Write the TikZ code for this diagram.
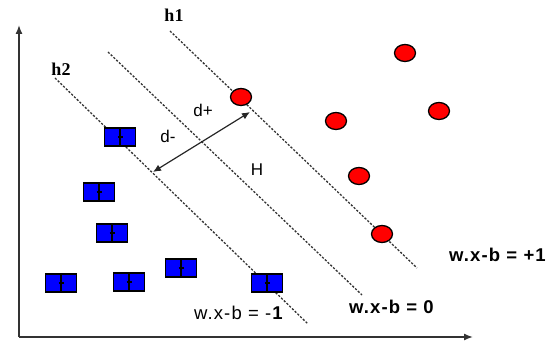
\documentclass[tikz,border=0pt]{standalone}
\usepackage{fontspec}
\setmainfont{Liberation Sans}
\newfontfamily\serifb{Liberation Serif}
\usetikzlibrary{arrows.meta,shapes.geometric}
\tikzset{
  hyper/.style={line width=1.3pt, black!80, dash pattern=on 2.2pt off 1.6pt},
  axis/.style={line width=1.4pt, black!80, -{Latex[length=9pt,width=7pt]}},
  posdot/.style={ellipse, draw=black, line width=1.3pt, fill=red, minimum width=21pt, minimum height=17pt, inner sep=0pt},
  negbox/.style={rectangle, draw=black, line width=1.5pt, fill=blue, minimum width=31pt, minimum height=18pt, inner sep=0pt,
    path picture={\draw[line width=1.6pt] (path picture bounding box.north) -- (path picture bounding box.south);
                  \draw[line width=1.2pt] ([xshift=-2.5pt]path picture bounding box.center) -- ([xshift=2.5pt]path picture bounding box.center);}},
  hlab/.style={font=\serifb\bfseries\fontsize{18}{20}\selectfont},
  dlab/.style={font=\fontsize{17}{19}\selectfont},
  eqlab/.style={font=\addfontfeature{LetterSpace=6}\fontsize{18.5}{20}\selectfont, inner sep=0pt},
}
\begin{document}
\begin{tikzpicture}[x=1pt,y=-1pt]
\useasboundingbox (0,0) rectangle (552,350);
% axes
\coordinate (o) at (19,337);
\coordinate (ytop) at (19,25);
\coordinate (xend) at (473,337);
\draw[axis] (o) -- (ytop);
\draw[axis] (o) -- (xend);
% hyperplanes
\coordinate (h1a) at (170,31);
\coordinate (h1b) at (417,268);
\coordinate (ha) at (108,52);
\coordinate (hb) at (362,295);
\coordinate (h2a) at (55,78);
\coordinate (h2b) at (308,324);
\draw[hyper] (h1a) -- (h1b);
\draw[hyper] (ha) -- (hb);
\draw[hyper] (h2a) -- (h2b);
% labels
\node[hlab] (lh1) at (174,15) {h1};
\node[hlab] (lh2) at (61,69) {h2};
\node[dlab] (ldp) at (203,110) {d+};
\node[dlab] (ldm) at (168,136) {d-};
\node[dlab] (lH) at (257,170) {H};
% margin arrow
\coordinate (am) at (153,172);
\coordinate (ap) at (250,112);
\draw[line width=1.2pt, black!85, {Latex[length=8pt,width=7pt]}-{Latex[length=8pt,width=7pt]}] (am) -- (ap);
% positive points
\node[posdot] (p1) at (241,97) {};
\node[posdot] (p2) at (405,53) {};
\node[posdot] (p3) at (439,111) {};
\node[posdot] (p4) at (336,121) {};
\node[posdot] (p5) at (359,176) {};
\node[posdot] (p6) at (382,234) {};
% negative points
\node[negbox] (n1) at (120,137) {};
\node[negbox] (n2) at (99,192) {};
\node[negbox] (n3) at (112,233) {};
\node[negbox] (n4) at (61,283) {};
\node[negbox] (n5) at (129,282) {};
\node[negbox] (n6) at (181,268) {};
\node[negbox] (n7) at (267,283) {};
% equations
\node[eqlab] (eqp) at (498,255) {\textbf{w.x-b = +1}};
\node[eqlab] (eq0) at (392,307) {\textbf{w.x-b = 0}};
\node[eqlab] (eqm) at (239,313) {w.x-b = -\textbf{1}};
\end{tikzpicture}
\end{document}
